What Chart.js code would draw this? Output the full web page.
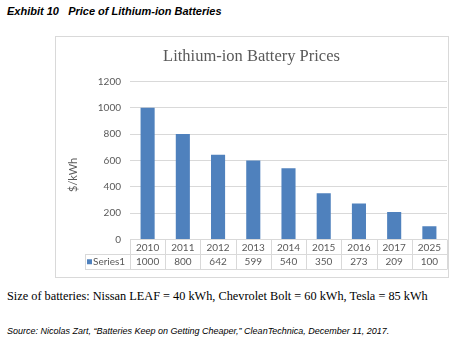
<!DOCTYPE html>
<html><head><meta charset="utf-8">
<script src="https://cdn.jsdelivr.net/npm/chart.js@4/dist/chart.umd.min.js"></script>
<style>
html,body{margin:0;padding:0;background:#fff;width:461px;height:348px;overflow:hidden;}
.t{position:absolute;white-space:pre;color:#000;}
#exh{left:7px;top:5px;font:bold italic 11px "Liberation Sans",Arial,sans-serif;}
#note{left:7px;top:289px;font:12.3px "Liberation Serif","Times New Roman",serif;}
#src{left:7px;top:326px;font:italic 9px "Liberation Sans",Arial,sans-serif;}
#box{position:absolute;left:55px;top:36px;width:392px;height:240px;border:1px solid #d9d9d9;}
canvas{display:block;}
</style></head><body>
<div class="t" id="exh">Exhibit 10   Price of Lithium-ion Batteries</div>
<div id="box"><canvas id="c" width="392" height="240"></canvas></div>
<div class="t" id="note">Size of batteries: Nissan LEAF = 40 kWh, Chevrolet Bolt = 60 kWh, Tesla = 85 kWh</div>
<div class="t" id="src">Source: Nicolas Zart, “Batteries Keep on Getting Cheaper,” CleanTechnica, December 11, 2017.</div>
<script>
const categories = ["2010","2011","2012","2013","2014","2015","2016","2017","2025"];
const series1 = [1000,800,642,599,540,350,273,209,100];
const seriesName = "Series1";
const chartTitle = "Lithium-ion Battery Prices";
const yTitle = "$/kWh";
const yTicks = [0,200,400,600,800,1000,1200];

const grey = "#595959", lineC = "#d9d9d9", barC = "#4f81bd";
const fontFam = "Lato, 'Open Sans', sans-serif";
const rowH = 14.5;

const tablePlugin = {
  id: "dataTable",
  afterDraw(chart) {
    const ctx = chart.ctx, x = chart.scales.x, ca = chart.chartArea;
    const n = categories.length;
    const w = (ca.right - ca.left) / n;
    const top = ca.bottom, mid = top + rowH, bot = top + 2 * rowH;
    const legLeft = 29;
    ctx.save();
    ctx.strokeStyle = lineC; ctx.lineWidth = 1;
    const hl = (x1, x2, y) => { ctx.beginPath(); ctx.moveTo(x1, Math.round(y)+0.5); ctx.lineTo(x2, Math.round(y)+0.5); ctx.stroke(); };
    const vl = (xx, y1, y2) => { ctx.beginPath(); ctx.moveTo(Math.round(xx)+0.5, y1); ctx.lineTo(Math.round(xx)+0.5, y2); ctx.stroke(); };
    hl(legLeft, ca.right, mid);
    hl(legLeft, ca.right, bot);
    for (let i = 0; i <= n; i++) vl(ca.left + i * w, top, bot + 1);
    vl(legLeft, mid, bot + 1);
    ctx.fillStyle = grey;
    ctx.font = "10px " + fontFam;
    ctx.textAlign = "center"; ctx.textBaseline = "middle";
    const cy1 = (top + mid) / 2 + 1, cy2 = (mid + bot) / 2 + 1;
    categories.forEach((c, i) => ctx.fillText(c, x.getPixelForValue(i), cy1));
    series1.forEach((v, i) => ctx.fillText(String(v), x.getPixelForValue(i), cy2));
    ctx.fillStyle = barC;
    ctx.fillRect(legLeft + 2, cy2 - 3, 5, 5);
    ctx.fillStyle = grey; ctx.textAlign = "left";
    ctx.fillText(seriesName, legLeft + 8, cy2);
    ctx.save();
    ctx.translate(17.5, (ca.top + bot) / 2);
    ctx.rotate(-Math.PI / 2);
    ctx.textAlign = "center";
    ctx.font = "11px " + fontFam;
    ctx.fillText(yTitle, 0, 0);
    ctx.restore();
    ctx.restore();
  }
};

new Chart(document.getElementById("c"), {
  type: "bar",
  data: { labels: categories, datasets: [{ label: seriesName, data: series1, backgroundColor: barC, categoryPercentage: 1, barPercentage: 0.4 }] },
  options: {
    responsive: false, animation: false, devicePixelRatio: 1,
    layout: { padding: { top: 0, right: 1, bottom: 37.5, left: 0 } },
    plugins: {
      legend: { display: false }, tooltip: { enabled: false },
      title: { display: true, text: chartTitle, color: grey, font: { family: "'Liberation Serif', serif", size: 16.5, weight: "normal" }, padding: { top: 9.5, bottom: 15 } }
    },
    scales: {
      x: { display: false },
      y: {
        min: yTicks[0], max: yTicks[yTicks.length - 1],
        grid: { color: lineC, drawTicks: false }, border: { display: false },
        afterBuildTicks(s) { s.ticks = yTicks.map(v => ({ value: v })); },
        ticks: { color: grey, font: { family: fontFam, size: 10 }, padding: 9, callback: v => String(v) },
        afterFit(s) { s.width = 74; }
      }
    }
  },
  plugins: [tablePlugin]
});
</script>
</body></html>
